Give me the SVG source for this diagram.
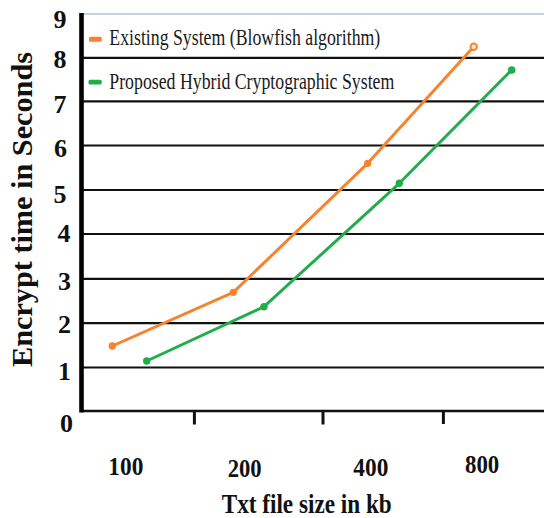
<svg xmlns="http://www.w3.org/2000/svg" width="544" height="518" viewBox="0 0 544 518">
  <style>
    .grid { stroke: #111; stroke-width: 2.2; }
    .tick { stroke: #111; stroke-width: 3; }
    .ylab { font-family: "Liberation Serif", "Times New Roman", serif; font-weight: bold; font-size: 26px; fill: #111; text-anchor: end; }
    .xlab { font-family: "Liberation Serif", "Times New Roman", serif; font-weight: bold; font-size: 25px; fill: #111; }
    .title { font-family: "Liberation Serif", "Times New Roman", serif; font-weight: bold; fill: #111; }
    .legend { font-family: "Liberation Serif", "Times New Roman", serif; font-size: 23px; fill: #1a1a1a; }
    .orange { stroke: #f7832c; fill: none; stroke-width: 3; stroke-linejoin: round; }
    .green { stroke: #22ad4b; fill: none; stroke-width: 3; stroke-linejoin: round; }
    .dot-o { fill: #f7832c; }
    .dot-g { fill: #22ad4b; }
  </style>

  <rect width="544" height="518" fill="#ffffff"/>

  <!-- plot frame and horizontal gridlines -->
  <g id="grid">
    <line x1="81" y1="14" x2="544" y2="14" stroke="#c8d2e2" stroke-width="2"/>
    <line class="grid" x1="81" y1="57.8" x2="544" y2="57.8"/>
    <line class="grid" x1="81" y1="101.3" x2="544" y2="101.3"/>
    <line class="grid" x1="81" y1="145.5" x2="544" y2="145.5"/>
    <line class="grid" x1="81" y1="190" x2="544" y2="190"/>
    <line class="grid" x1="81" y1="234" x2="544" y2="234"/>
    <line class="grid" x1="81" y1="278.8" x2="544" y2="278.8"/>
    <line class="grid" x1="81" y1="323.2" x2="544" y2="323.2"/>
    <line class="grid" x1="81" y1="367.5" x2="544" y2="367.5"/>
    <line x1="81" y1="411" x2="544" y2="411" stroke="#111" stroke-width="2.6"/>
  </g>

  <!-- axes and ticks -->
  <g id="axes">
    <line x1="81.5" y1="13" x2="81.5" y2="412.5" stroke="#000" stroke-width="4.6"/>
    <line class="tick" x1="194.4" y1="411" x2="194.4" y2="424.5"/>
    <line class="tick" x1="323" y1="411" x2="323" y2="424.5"/>
    <line class="tick" x1="443.4" y1="411" x2="443.4" y2="424"/>
  </g>

  <!-- y tick labels -->
  <g id="y-labels">
    <text class="ylab" x="66.5" y="28">9</text>
    <text class="ylab" x="66.5" y="68">8</text>
    <text class="ylab" x="66.5" y="112.5">7</text>
    <text class="ylab" x="67" y="157">6</text>
    <text class="ylab" x="66.5" y="202.5">5</text>
    <text class="ylab" x="70.5" y="242">4</text>
    <text class="ylab" x="71" y="289.5">3</text>
    <text class="ylab" x="71" y="333">2</text>
    <text class="ylab" x="71" y="380">1</text>
    <text class="ylab" x="73" y="432">0</text>
  </g>

  <!-- x category labels -->
  <g id="x-labels">
    <text class="xlab" x="108.3" y="475" textLength="35" lengthAdjust="spacingAndGlyphs">100</text>
    <text class="xlab" x="227.7" y="476.5" textLength="34" lengthAdjust="spacingAndGlyphs">200</text>
    <text class="xlab" x="353.3" y="476.3" textLength="35" lengthAdjust="spacingAndGlyphs">400</text>
    <text class="xlab" x="465" y="472.8" textLength="34.3" lengthAdjust="spacingAndGlyphs">800</text>
  </g>

  <!-- axis titles -->
  <g id="axis-titles">
    <text class="title" x="221.7" y="513" font-size="28" textLength="170" lengthAdjust="spacingAndGlyphs">Txt file size in kb</text>
    <text class="title" transform="translate(32,209.5) rotate(-90)" x="0" y="0" font-size="29" text-anchor="middle" textLength="315" lengthAdjust="spacingAndGlyphs">Encrypt time in Seconds</text>
  </g>

  <!-- legend -->
  <g id="legend">
    <rect x="89" y="36.8" width="12.7" height="5" rx="1.5" class="dot-o"/>
    <text class="legend" x="109.3" y="45" textLength="271" lengthAdjust="spacingAndGlyphs">Existing System (Blowfish algorithm)</text>
    <rect x="88.5" y="79.8" width="13.2" height="4.8" rx="1.5" class="dot-g"/>
    <text class="legend" x="109.3" y="89" textLength="285" lengthAdjust="spacingAndGlyphs">Proposed Hybrid Cryptographic System</text>
  </g>

  <!-- data series -->
  <g id="series-existing">
    <polyline class="orange" points="112.3,346 233.3,292.3 367.7,163.3 473.7,46.7"/>
    <circle class="dot-o" cx="112.3" cy="346" r="3.7"/>
    <circle class="dot-o" cx="233.3" cy="292.3" r="3.6"/>
    <circle class="dot-o" cx="367.7" cy="163.3" r="3.6"/>
    <circle cx="473.7" cy="46.7" r="3.2" fill="#fde6d3" stroke="#f7832c" stroke-width="2"/>
  </g>

  <g id="series-proposed">
    <polyline class="green" points="146.7,361 264,306.7 399.3,183.3 511.7,70"/>
    <circle class="dot-g" cx="146.7" cy="361" r="3.7"/>
    <circle class="dot-g" cx="264" cy="306.7" r="3.7"/>
    <circle class="dot-g" cx="399.3" cy="183.3" r="3.7"/>
    <circle class="dot-g" cx="511.7" cy="70" r="3.8"/>
  </g>
</svg>
